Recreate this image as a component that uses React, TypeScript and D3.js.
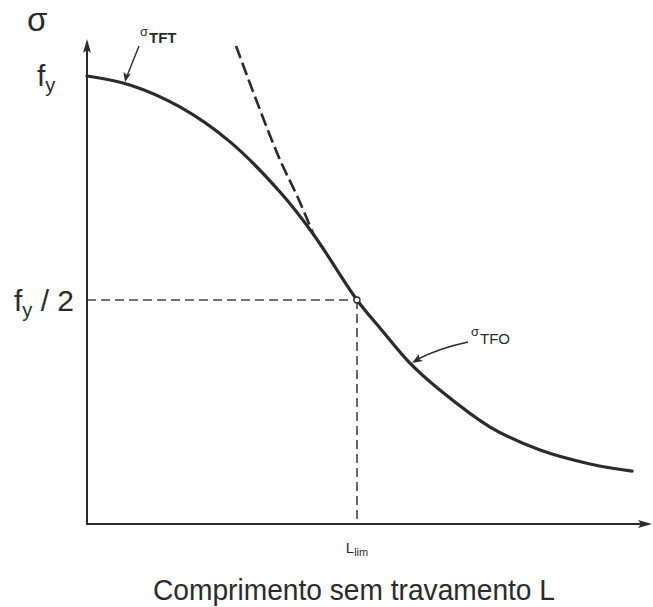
import React from "react";
import * as d3 from "d3";

// Inelastic (σTFT) + elastic (σTFO) lateral-torsional buckling curve,
// x as L / Llim, y as σ / fy
const lengthRatio = [0, 0.159, 0.344, 0.53, 0.715, 0.837, 1.0, 1.085, 1.196, 1.307, 1.493, 1.678, 1.863, 2.019];
const stressRatio = [1.0, 0.98, 0.931, 0.853, 0.741, 0.648, 0.5, 0.4375, 0.359, 0.299, 0.2165, 0.165, 0.134, 0.118];

// Elastic curve continued above the limit (dashed)
const elasticLength = [0.552, 0.641, 0.715, 0.78, 0.84];
const elasticStress = [1.067, 0.924, 0.8125, 0.73, 0.645];

const limitLength = 1.0;
const limitStress = 0.5;

const W = 653;
const H = 607;

export default function App() {
  const x = d3.scaleLinear().domain([0, 1]).range([87, 357]);
  const y = d3.scaleLinear().domain([0, 1]).range([524, 76]);

  const line = d3
    .line<[number, number]>()
    .x((d) => x(d[0]))
    .y((d) => y(d[1]))
    .curve(d3.curveCatmullRom.alpha(0.5));

  const mainPath = line(lengthRatio.map((v, i) => [v, stressRatio[i]]) as [number, number][]) || "";
  const elasticPath = line(elasticLength.map((v, i) => [v, elasticStress[i]]) as [number, number][]) || "";

  const x0 = x(0);
  const y0 = y(0);
  const xEnd = 652;
  const yTop = 39;
  const ink = "#2b2b2b";
  const font = "'Liberation Sans', Arial, sans-serif";

  const lx = x(limitLength);
  const ly = y(limitStress);

  return (
    <svg
      width={W}
      height={H}
      viewBox={`0 0 ${W} ${H}`}
      style={{ position: "absolute", left: 0, top: 0, background: "#fff" }}
      fontFamily={font}
    >
      <rect x={0} y={0} width={W} height={H} fill="#fff" />

      {/* guide lines to the limit point */}
      <line x1={x0} y1={ly} x2={lx} y2={ly} stroke="#444" strokeWidth={1.6} strokeDasharray="9 5" />
      <line x1={lx} y1={ly} x2={lx} y2={y0} stroke="#444" strokeWidth={1.6} strokeDasharray="9 5" />

      {/* axes */}
      <line x1={x0} y1={y0} x2={x0} y2={yTop + 6} stroke={ink} strokeWidth={2} />
      <path d={`M${x0},${yTop} L${x0 - 4},${yTop + 14} L${x0},${yTop + 11} L${x0 + 4},${yTop + 14} Z`} fill={ink} />
      <line x1={x0 - 1} y1={y0} x2={xEnd - 6} y2={y0} stroke={ink} strokeWidth={2} />
      <path d={`M${xEnd},${y0} L${xEnd - 14},${y0 - 4} L${xEnd - 11},${y0} L${xEnd - 14},${y0 + 4} Z`} fill={ink} />

      {/* elastic continuation */}
      <path d={elasticPath} fill="none" stroke={ink} strokeWidth={2.6} strokeDasharray="13 5" />

      {/* buckling curve */}
      <path d={mainPath} fill="none" stroke={ink} strokeWidth={3.2} strokeLinecap="round" />

      {/* limit point */}
      <circle cx={lx} cy={ly} r={3} fill="#fff" stroke={ink} strokeWidth={1.3} />

      {/* σTFT leader */}
      <line x1={139} y1={46} x2={127} y2={76} stroke={ink} strokeWidth={1.4} />
      <path d="M125,82 L123.5,72 L127,75 L131,73.5 Z" fill={ink} />
      <text x={140} y={36} fontSize={13} fill={ink}>σ</text>
      <text x={149} y={43} fontSize={15} fontWeight={700} fill={ink}>TFT</text>

      {/* σTFO leader */}
      <path d="M468,342 Q440,348 418,359" fill="none" stroke={ink} strokeWidth={1.4} />
      <path d="M412,363 L419,354 L419,359 L423,361 Z" fill={ink} />
      <text x={471} y={336} fontSize={13} fill={ink}>σ</text>
      <text x={480} y={344} fontSize={15} fill={ink}>TFO</text>

      {/* axis labels */}
      <text x={27} y={31} fontSize={33} fill={ink}>σ</text>
      <text x={37} y={86} fontSize={30} fill={ink}>
        f<tspan fontSize={20} dy={6}>y</tspan>
      </text>
      <text x={14} y={311} fontSize={30} fill={ink}>
        f<tspan fontSize={20} dy={6}>y</tspan>
        <tspan dy={-6}> / 2</tspan>
      </text>
      <text x={lx} y={553} fontSize={15} fill={ink} textAnchor="middle">
        L<tspan fontSize={11} dy={3}>lim</tspan>
      </text>
      <text x={153} y={600} fontSize={30} fill={ink} textLength={402} lengthAdjust="spacingAndGlyphs">
        Comprimento sem travamento L
      </text>
    </svg>
  );
}
